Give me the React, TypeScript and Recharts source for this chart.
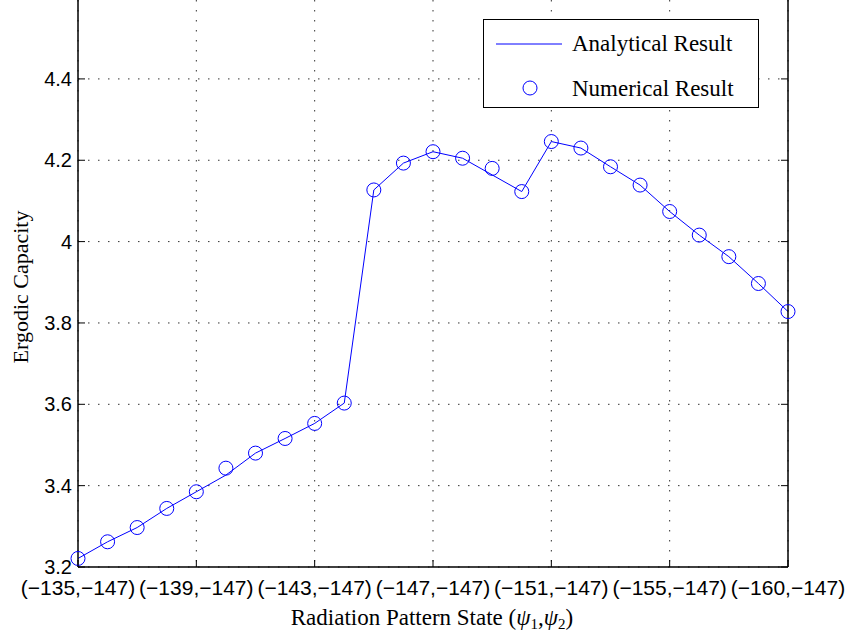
import {
  ComposedChart,
  Line,
  XAxis,
  YAxis,
  CartesianGrid,
  Legend,
} from "recharts";

// state index along the x axis (one per radiation pattern state)
const stateIndex = [0, 1, 2, 3, 4, 5, 6, 7, 8, 9, 10, 11, 12, 13, 14, 15, 16, 17, 18, 19, 20, 21, 22, 23, 24];

const analytical = [
  3.221, 3.262, 3.297, 3.344, 3.385, 3.426, 3.48, 3.516, 3.553, 3.603,
  4.127, 4.193, 4.221, 4.205, 4.164, 4.123, 4.246, 4.23, 4.184, 4.139,
  4.074, 4.016, 3.963, 3.897, 3.828,
];

const numerical = [
  3.221, 3.262, 3.297, 3.344, 3.385, 3.443, 3.48, 3.516, 3.553, 3.603,
  4.127, 4.193, 4.221, 4.205, 4.18, 4.123, 4.246, 4.23, 4.184, 4.139,
  4.074, 4.016, 3.963, 3.897, 3.828,
];

const xTicks = [0, 4, 8, 12, 16, 20, 24];
const xTickLabels = [
  "(−135,−147)",
  "(−139,−147)",
  "(−143,−147)",
  "(−147,−147)",
  "(−151,−147)",
  "(−155,−147)",
  "(−160,−147)",
];
const yTicks = [3.2, 3.4, 3.6, 3.8, 4, 4.2, 4.4];

const data = stateIndex.map((s, i) => ({
  s,
  analytical: analytical[i],
  numerical: numerical[i],
}));

const BLUE = "#0000ff";
const SANS = "'Liberation Sans', Arial, sans-serif";
const SERIF = "'Liberation Serif', 'DejaVu Serif', serif";

function LeftTick(props: any) {
  const { x, y, payload } = props;
  return (
    <g>
      <line x1={x + 6} x2={x + 13} y1={y} y2={y} stroke="#000" />
      <text x={x} y={y} dy={7} textAnchor="end" fontFamily={SANS} fontSize={20} fill="#000">
        {payload.value === 4 ? "4" : payload.value.toFixed(1)}
      </text>
    </g>
  );
}

function RightTick(props: any) {
  const { x, y } = props;
  return <line x1={x} x2={x - 7} y1={y} y2={y} stroke="#000" />;
}

function BottomTick(props: any) {
  const { x, y, payload } = props;
  const idx = xTicks.indexOf(payload.value);
  return (
    <g>
      <line x1={x} x2={x} y1={y} y2={y - 7} stroke="#000" />
      <text x={x} y={y} dy={28} textAnchor="middle" fontFamily={SANS} fontSize={21} fill="#000">
        {xTickLabels[idx]}
      </text>
    </g>
  );
}

function XTitle() {
  return (
    <text x={432} y={625} textAnchor="middle" fontFamily={SERIF} fontSize={23} fill="#000">
      Radiation Pattern State (
      <tspan fontStyle="italic">ψ</tspan>
      <tspan fontSize={15} dy={4}>1</tspan>
      <tspan dy={-4}>,</tspan>
      <tspan fontStyle="italic">ψ</tspan>
      <tspan fontSize={15} dy={4}>2</tspan>
      <tspan dy={-4}>)</tspan>
    </text>
  );
}

function YTitle() {
  return (
    <text
      x={20}
      y={287}
      transform="rotate(-90 20 287)"
      textAnchor="middle"
      dominantBaseline="central"
      fontFamily={SERIF}
      fontSize={22}
      fill="#000"
    >
      Ergodic Capacity
    </text>
  );
}

function LegendBox() {
  return (
    <div
      style={{
        width: 274,
        height: 87,
        border: "1px solid #000",
        background: "#fff",
      }}
    >
      <svg width={274} height={87} style={{ display: "block" }}>
        <line x1={12} x2={78} y1={24} y2={24} stroke={BLUE} strokeWidth={1} />
        <text x={88} y={31} fontFamily={SERIF} fontSize={23} fill="#000">
          Analytical Result
        </text>
        <circle cx={46} cy={68} r={7} fill="none" stroke={BLUE} strokeWidth={1} />
        <text x={88} y={76} fontFamily={SERIF} fontSize={23} fill="#000">
          Numerical Result
        </text>
      </svg>
    </div>
  );
}

export default function App() {
  return (
    <div style={{ position: "absolute", left: 0, top: 0, width: 858, height: 636, background: "#fff" }}>
      <ComposedChart
        width={858}
        height={636}
        data={data}
        margin={{ top: 0, right: 0, bottom: 0, left: 0 }}
      >
        <CartesianGrid
          yAxisId="left"
          stroke="#333"
          strokeDasharray="1.5 8.5"
          horizontalValues={yTicks}
          verticalValues={xTicks}
        />
        <XAxis
          dataKey="s"
          type="number"
          domain={[0, 24]}
          ticks={xTicks}
          height={69}
          tickSize={0}
          tickMargin={0}
          tick={<BottomTick />}
          axisLine={{ stroke: "#000", strokeWidth: 1.5 }}
          tickLine={false}
          label={() => <XTitle />}
        />
        <YAxis
          yAxisId="left"
          type="number"
          domain={[3.2, 4.594]}
          ticks={yTicks}
          width={78}
          tickSize={0}
          tickMargin={6}
          tick={<LeftTick />}
          tickLine={false}
          axisLine={{ stroke: "#000", strokeWidth: 1.5 }}
          allowDataOverflow
          label={() => <YTitle />}
        />
        <YAxis
          yAxisId="right"
          orientation="right"
          type="number"
          domain={[3.2, 4.594]}
          ticks={yTicks}
          width={70}
          tickSize={0}
          tickMargin={0}
          tick={<RightTick />}
          tickLine={false}
          axisLine={{ stroke: "#000", strokeWidth: 1.5 }}
          allowDataOverflow
        />
        <Legend
          layout="vertical"
          align="center"
          verticalAlign="middle"
          content={<LegendBox />}
          wrapperStyle={{ position: "absolute", left: 483, top: 19, width: 276, height: 89 }}
        />
        <Line
          yAxisId="left"
          dataKey="analytical"
          stroke={BLUE}
          strokeWidth={1}
          dot={false}
          isAnimationActive={false}
        />
        <Line
          yAxisId="left"
          dataKey="numerical"
          stroke="none"
          strokeWidth={0}
          dot={{ r: 7, stroke: BLUE, strokeWidth: 1, fill: "none" }}
          activeDot={false}
          isAnimationActive={false}
        />
      </ComposedChart>
    </div>
  );
}
